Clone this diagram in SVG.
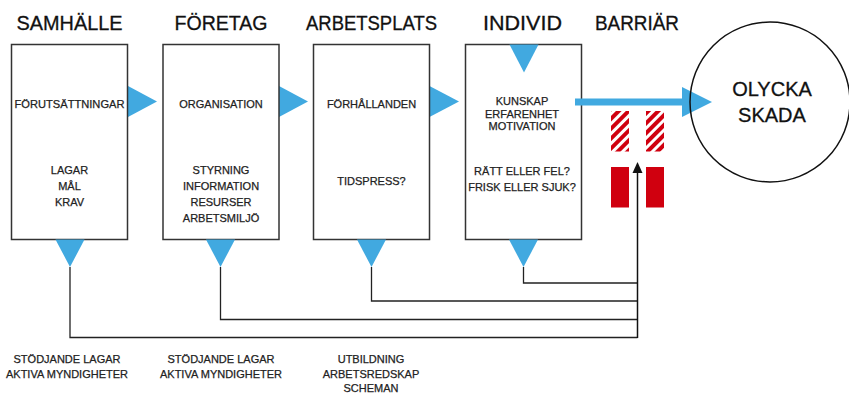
<svg xmlns="http://www.w3.org/2000/svg" width="849" height="396" viewBox="0 0 849 396">
  <style>
    .title { font-family: "Liberation Sans", Arial, sans-serif; font-size: 20px; fill: #111; text-anchor: middle; stroke: #111; stroke-width: 0.3; }
    .lbl { font-family: "Liberation Sans", Arial, sans-serif; font-size: 11px; fill: #222; text-anchor: middle; stroke: #222; stroke-width: 0.25; }
    .box { fill: #fff; stroke: #333; stroke-width: 1.5; }
    .tri { fill: #41a9e0; }
    .wire { fill: none; stroke: #222; stroke-width: 1.3; }
    .red { fill: #d0000f; }
  </style>
  <defs>
    <pattern id="hatch" patternUnits="userSpaceOnUse" width="7" height="7" patternTransform="rotate(45)">
      <rect x="0" y="0" width="7" height="7" fill="#d0000f"/>
      <rect x="0" y="0" width="3" height="7" fill="#fff"/>
    </pattern>
  </defs>

  <!-- Titles -->
  <g id="titles">
    <text class="title" x="69.5" y="30" textLength="106" lengthAdjust="spacingAndGlyphs">SAMHÄLLE</text>
    <text class="title" x="221" y="30" textLength="93" lengthAdjust="spacingAndGlyphs">FÖRETAG</text>
    <text class="title" x="371.5" y="30" textLength="131" lengthAdjust="spacingAndGlyphs">ARBETSPLATS</text>
    <text class="title" x="522.5" y="30" textLength="79" lengthAdjust="spacingAndGlyphs">INDIVID</text>
    <text class="title" x="637" y="30" textLength="84" lengthAdjust="spacingAndGlyphs">BARRIÄR</text>
  </g>

  <!-- Connectors -->
  <g id="connectors">
    <path class="wire" d="M70,267 V337.5 H637.5"/>
    <path class="wire" d="M220.5,267 V319.5 H637.5"/>
    <path class="wire" d="M371.5,267 V301 H637.5"/>
    <path class="wire" d="M523.5,267 V283 H637.5"/>
    <line x1="637.5" y1="338" x2="637.5" y2="172" stroke="#111" stroke-width="1.5"/>
    <polygon points="632.5,173 637.5,162 642.5,173" fill="#111"/>
    <!-- right-pointing flow triangles -->
    <polygon class="tri" points="128,86 157,101.5 128,117"/>
    <polygon class="tri" points="279,86 308,101.5 279,117"/>
    <polygon class="tri" points="429.5,86 459,101.5 429.5,117"/>
  </g>

  <!-- Box 1 -->
  <g id="samhalle">
    <rect class="box" x="11.5" y="44.5" width="116" height="195"/>
    <text class="lbl" x="69.5" y="108" textLength="110" lengthAdjust="spacingAndGlyphs">FÖRUTSÄTTNINGAR</text>
    <text class="lbl" x="69.5" y="174">LAGAR</text>
    <text class="lbl" x="69.5" y="190">MÅL</text>
    <text class="lbl" x="69.5" y="206">KRAV</text>
    <polygon class="tri" points="55.5,239.5 84.5,239.5 70,267"/>
  </g>

  <!-- Box 2 -->
  <g id="foretag">
    <rect class="box" x="163" y="44.5" width="116" height="195"/>
    <text class="lbl" x="221" y="108">ORGANISATION</text>
    <text class="lbl" x="221" y="174">STYRNING</text>
    <text class="lbl" x="221" y="190">INFORMATION</text>
    <text class="lbl" x="221" y="206">RESURSER</text>
    <text class="lbl" x="221" y="222">ARBETSMILJÖ</text>
    <polygon class="tri" points="206,239.5 235,239.5 220.5,267"/>
  </g>

  <!-- Box 3 -->
  <g id="arbetsplats">
    <rect class="box" x="313.5" y="44.5" width="116" height="195"/>
    <text class="lbl" x="371.5" y="108">FÖRHÅLLANDEN</text>
    <text class="lbl" x="371.5" y="185">TIDSPRESS?</text>
    <polygon class="tri" points="357,239.5 386,239.5 371.5,267"/>
  </g>

  <!-- Box 4 -->
  <g id="individ">
    <rect class="box" x="465.5" y="44.5" width="116" height="195"/>
    <polygon class="tri" points="509.5,44.5 538.5,44.5 524,72.5"/>
    <text class="lbl" x="522" y="105" font-size="10.5">KUNSKAP</text>
    <text class="lbl" x="522" y="117.5" font-size="10.5">ERFARENHET</text>
    <text class="lbl" x="522" y="130" font-size="10.5">MOTIVATION</text>
    <text class="lbl" x="522" y="175" font-size="10.5">RÄTT ELLER FEL?</text>
    <text class="lbl" x="522" y="191" font-size="10.5">FRISK ELLER SJUK?</text>
    <polygon class="tri" points="509,239.5 538,239.5 523.5,267"/>
  </g>

  <!-- Barrier -->
  <g id="barriar">
    <rect x="611" y="111" width="18" height="40.5" fill="url(#hatch)"/>
    <rect x="646" y="111" width="18" height="40.5" fill="url(#hatch)"/>
    <rect class="red" x="611" y="167" width="18" height="40.5"/>
    <rect class="red" x="646" y="167" width="18" height="40.5"/>
  </g>

  <!-- Main blue arrow -->
  <g id="main-arrow">
    <rect class="tri" x="575" y="98.5" width="108" height="7"/>
    <polygon class="tri" points="682,87 712,102 682,117"/>
  </g>

  <!-- Outcome circle -->
  <g id="olycka">
    <circle cx="770" cy="102" r="80" fill="none" stroke="#111" stroke-width="1.5"/>
    <text class="title" x="772" y="96">OLYCKA</text>
    <text class="title" x="772" y="121.5">SKADA</text>
  </g>

  <!-- Bottom labels -->
  <g id="bottom-labels">
    <text class="lbl" x="67" y="363">STÖDJANDE LAGAR</text>
    <text class="lbl" x="67" y="377.5">AKTIVA MYNDIGHETER</text>
    <text class="lbl" x="221" y="363">STÖDJANDE LAGAR</text>
    <text class="lbl" x="221" y="377.5">AKTIVA MYNDIGHETER</text>
    <text class="lbl" x="371" y="363">UTBILDNING</text>
    <text class="lbl" x="371" y="377.5">ARBETSREDSKAP</text>
    <text class="lbl" x="371" y="392">SCHEMAN</text>
  </g>
</svg>
